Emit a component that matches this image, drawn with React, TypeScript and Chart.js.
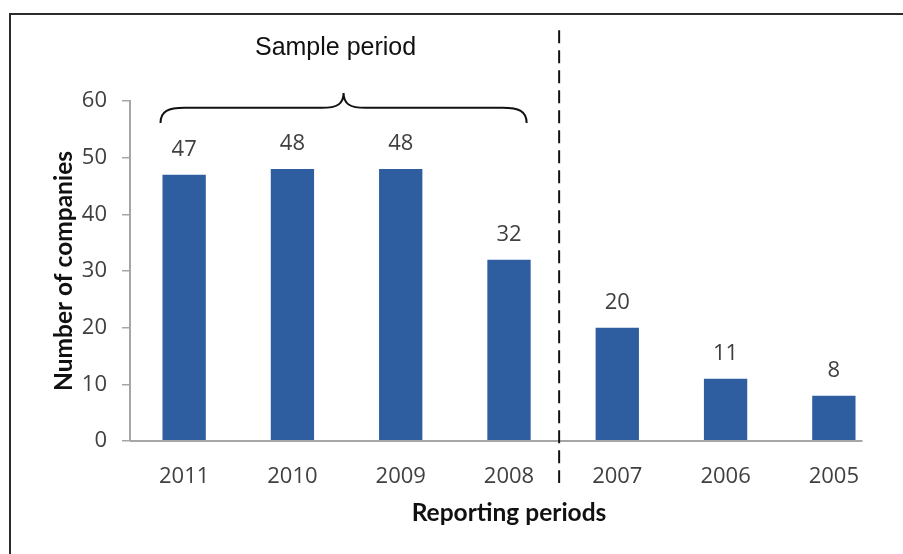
import { useEffect, useRef } from "react";
import { Chart, registerables } from "chart.js";

Chart.register(...registerables);

const categories = ["2011", "2010", "2009", "2008", "2007", "2006", "2005"];
const companies = [47, 48, 48, 32, 20, 11, 8];
const yMin = 0;
const yMax = 60;
const yStep = 10;
const xTitle = "Reporting periods";
const yTitle = "Number of companies";
const sampleLabel = "Sample period";
const sampleFirst = 0;
const sampleLast = 3;

const W = 903;
const H = 554;
const tickFont = "'Open Sans', sans-serif";
const titleFont = "Lato, sans-serif";
const barColor = "#2E5E9F";
const axisColor = "#A6A6A6";
const textColor = "#404040";

const overlay = {
  id: "overlay",
  afterDraw(chart: any) {
    const ctx = chart.ctx;
    const x = chart.scales.x;
    const y = chart.scales.y;
    const bars = chart.getDatasetMeta(0).data;
    const area = chart.chartArea;
    ctx.save();

    // frame
    ctx.strokeStyle = "#2b2b2b";
    ctx.lineWidth = 2;
    ctx.strokeRect(10, 14, W + 40, H + 40);

    // x axis line
    const last = bars[bars.length - 1];
    ctx.strokeStyle = axisColor;
    ctx.lineWidth = 2;
    ctx.beginPath();
    ctx.moveTo(area.left, area.bottom);
    ctx.lineTo(last.x + last.width / 2 + 7, area.bottom);
    ctx.stroke();

    // value labels
    ctx.fillStyle = textColor;
    ctx.font = `22px ${tickFont}`;
    ctx.textAlign = "center";
    ctx.textBaseline = "middle";
    bars.forEach((b: any, i: number) => {
      ctx.fillText(String(companies[i]), b.x, b.y - 25);
    });

    // brace
    const b0 = bars[sampleFirst];
    const b1 = bars[sampleLast];
    const x0 = b0.x - b0.width / 2 - 2;
    const x1 = b1.x + b1.width / 2 - 4;
    const mid = (x0 + x1) / 2;
    const yH = y.getPixelForValue(58.8);
    const yEnd = y.getPixelForValue(56.1);
    const yPeak = y.getPixelForValue(61.4);
    ctx.strokeStyle = "#111";
    ctx.lineWidth = 2;
    ctx.beginPath();
    ctx.moveTo(x0, yEnd);
    ctx.bezierCurveTo(x0, yH + 3, x0 + 8, yH, x0 + 24, yH);
    ctx.lineTo(mid - 22, yH);
    ctx.bezierCurveTo(mid - 6, yH, mid, yH - 4, mid, yPeak);
    ctx.bezierCurveTo(mid, yH - 4, mid + 6, yH, mid + 22, yH);
    ctx.lineTo(x1 - 24, yH);
    ctx.bezierCurveTo(x1 - 8, yH, x1, yH + 3, x1, yEnd);
    ctx.stroke();

    // sample label
    ctx.fillStyle = "#111";
    ctx.font = "25px 'Liberation Sans', Arial, sans-serif";
    ctx.fillText(sampleLabel, mid - 8, y.getPixelForValue(69.3));

    // dashed separator
    const xs = (x.getPixelForValue(sampleLast) + x.getPixelForValue(sampleLast + 1)) / 2 - 4;
    ctx.setLineDash([13, 7]);
    ctx.lineWidth = 2;
    ctx.strokeStyle = "#111";
    ctx.beginPath();
    ctx.moveTo(xs, y.getPixelForValue(72.5));
    ctx.lineTo(xs, y.getPixelForValue(-7.4));
    ctx.stroke();
    ctx.restore();
  },
};

export default function App() {
  const ref = useRef<HTMLCanvasElement>(null);
  useEffect(() => {
    const chart = new Chart(ref.current!, {
      type: "bar",
      data: {
        labels: categories,
        datasets: [
          {
            data: companies,
            backgroundColor: barColor,
            barPercentage: 0.4,
            categoryPercentage: 1,
          },
        ],
      },
      options: {
        responsive: false,
        animation: false,
        layout: { padding: { left: 46, top: 101, right: 15, bottom: 0 } },
        plugins: {
          legend: { display: false },
          tooltip: { enabled: false },
        },
        scales: {
          x: {
            grid: { display: false, drawTicks: false },
            border: { display: false },
            ticks: {
              color: textColor,
              font: { family: tickFont, size: 22 },
              padding: 23,
              maxRotation: 0,
            },
            title: {
              display: true,
              text: xTitle,
              color: "#111",
              font: { family: titleFont, size: 24.5, weight: "bold" },
              padding: { top: 0, bottom: 26 },
            },
            afterFit(s: any) {
              s.height = 113;
            },
          },
          y: {
            min: yMin,
            max: yMax,
            grid: {
              drawOnChartArea: false,
              drawTicks: true,
              tickLength: 8,
              color: axisColor,
              lineWidth: 1.5,
            },
            border: { display: true, color: axisColor, width: 2 },
            ticks: {
              stepSize: yStep,
              color: textColor,
              font: { family: tickFont, size: 22 },
              padding: 15,
            },
            title: {
              display: true,
              text: yTitle,
              color: "#111",
              font: { family: titleFont, size: 24.5, weight: "bold" },
              padding: { top: 3, bottom: 0 },
            },
            afterFit(s: any) {
              s.width = 84;
            },
          },
        },
      },
      plugins: [overlay],
    });
    return () => chart.destroy();
  }, []);
  return (
    <div style={{ position: "fixed", left: 0, top: 0, width: W, height: H, background: "#fff" }}>
      <canvas ref={ref} width={W} height={H} style={{ display: "block" }} />
    </div>
  );
}
